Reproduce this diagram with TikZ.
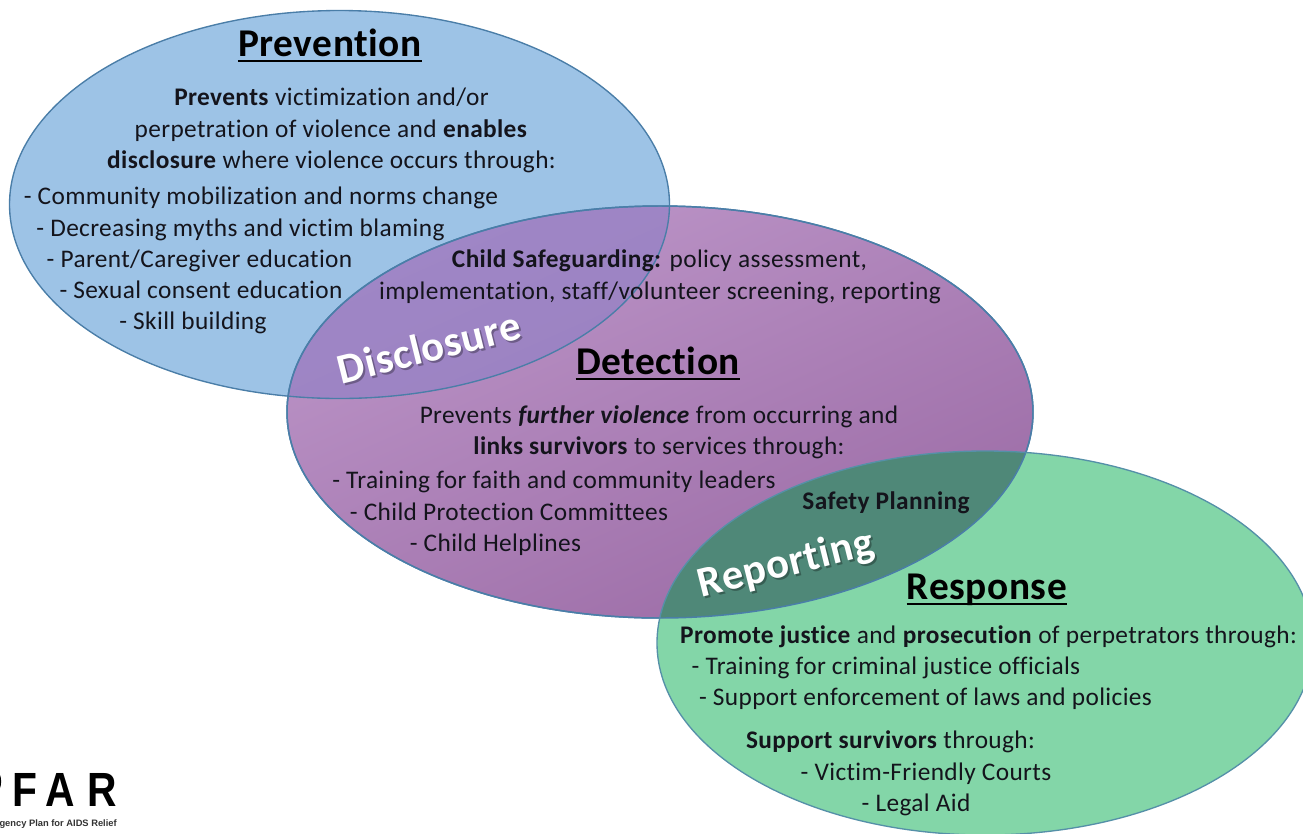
\documentclass[tikz,border=0pt]{standalone}
\usepackage{fontspec}
\setmainfont{Carlito}[Ligatures=NoCommon,LetterSpace=1.5]
\newfontfamily\logofont{Liberation Sans}
\definecolor{blueF}{HTML}{9DC3E6}
\definecolor{blueE}{HTML}{4A7EA8}
\definecolor{purpL}{HTML}{BC95C8}
\definecolor{purpM}{HTML}{B992C5}
\definecolor{purpD}{HTML}{9C6CA6}
\definecolor{overB}{HTML}{9F86C6}
\definecolor{overBD}{HTML}{967DBC}
\definecolor{greenF}{HTML}{83D6A8}
\definecolor{overG}{HTML}{4F8878}
\definecolor{ink}{HTML}{14141C}
\tikzset{
  x=0.75pt,y=-0.75pt,
  txt/.style={inner sep=0pt,anchor=base,font=\fontsize{19}{21}\selectfont,text=ink},
  head/.style={inner sep=0pt,anchor=base,font=\fontsize{29.5}{32}\selectfont\bfseries,text=black},
  underline/.style={line width=1.7pt,black},
  overlay text/.style={inner sep=0pt,font=\fontsize{32}{36}\selectfont\bfseries,rotate=14,text=white},
  shadow text/.style={inner sep=0pt,font=\fontsize{32}{36}\selectfont\bfseries,rotate=14,text=black,opacity=0.3},
}
\newcommand{\blueell}{(339.5,204.5) ellipse [x radius=330,y radius=194]}
\newcommand{\purpell}{(660,412) ellipse [x radius=373,y radius=206]}
\newcommand{\greenell}{(985,643) ellipse [x radius=328,y radius=192]}
\begin{document}
\begin{tikzpicture}
\useasboundingbox (0,0) rectangle (1303,833);
\begin{scope}
\clip (0,0) rectangle (1303,833);
\fill[white] (0,0) rectangle (1303,833);
% ellipses
\fill[blueF] \blueell;
\shade[top color=purpL,middle color=purpM,bottom color=purpD,shading angle=24] \purpell;
\begin{scope}
  \clip \blueell;
  \shade[top color=overB,bottom color=overBD,shading angle=24] \purpell;
  \draw[blueE!70!purpD,line width=0.7pt,opacity=.5] \blueell;
\end{scope}
\draw[blueE,line width=1pt] \blueell;
\draw[blueE,line width=1.1pt] \purpell;
\fill[greenF] \greenell;
\begin{scope}
  \clip \purpell;
  \fill[overG] \greenell;
\end{scope}
\draw[blueE,line width=1.1pt] \purpell;
\draw[blueE!80!greenF,line width=1pt] \greenell;
% logo
\fill[black] (0,775) .. controls (1.5,778) and (1.5,785) .. (0,788) -- cycle;
\node[inner sep=0pt,anchor=base east,xscale=.85,font=\logofont\bfseries\fontsize{36}{38}\selectfont,text=black] (logo) at (117,806) {F\hspace{7pt}A\hspace{11pt}R};
\node[inner sep=0pt,anchor=base east,font=\logofont\bfseries\fontsize{7}{8}\selectfont,text=black!80] (logosub) at (117,826) {gency Plan for AIDS Relief};
\end{scope}
% Prevention
\node[head] (h1) at (330,56) {Prevention};
\draw[underline] ([yshift=-4pt]h1.base west) -- ([yshift=-4pt]h1.base east);
\node[txt] (a1) at (331.5,105) {\textbf{Prevents} victimization and/or};
\node[txt] (a2) at (331,137) {perpetration of violence and \textbf{enables}};
\node[txt] (a3) at (331.5,168) {\textbf{disclosure} where violence occurs through:};
\node[txt] (a4) at (261,204) {- Community mobilization and norms change};
\node[txt] (a5) at (240.5,236) {- Decreasing myths and victim blaming};
\node[txt] (a6) at (199.5,267) {- Parent/Caregiver education};
\node[txt] (a7) at (201,298) {- Sexual consent education};
\node[txt] (a8) at (193,329) {- Skill building};
% Safeguarding
\node[txt] (b1) at (659.5,267) {\textbf{Child Safeguarding:} policy assessment,};
\node[txt] (b2) at (660,299) {implementation, staff/volunteer screening, reporting};
\node[shadow text] (ds) at (431,349) {Disclosure};
\node[overlay text] (d) at (429,347) {Disclosure};
% Detection
\node[head] (h2) at (658,374) {Detection};
\draw[underline] ([yshift=-4pt]h2.base west) -- ([yshift=-4pt]h2.base east);
\node[txt] (c1) at (659,423) {Prevents \textbf{\textit{further violence}} from occurring and};
\node[txt] (c2) at (659,454) {\textbf{links survivors} to services through:};
\node[txt] (c3) at (554,488) {- Training for faith and community leaders};
\node[txt] (c4) at (509,520) {- Child Protection Committees};
\node[txt] (c5) at (495.5,551) {- Child Helplines};
\node[txt,font=\fontsize{19}{21}\selectfont\bfseries] (e1) at (886,509) {Safety Planning};
\node[shadow text] (rs) at (788,567) {Reporting};
\node[overlay text] (r) at (786,565) {Reporting};
% Response
\node[head] (h3) at (987,599) {Response};
\draw[underline] ([yshift=-4pt]h3.base west) -- ([yshift=-4pt]h3.base east);
\node[txt] (f1) at (988.5,643) {\textbf{Promote justice} and \textbf{prosecution} of perpetrators through:};
\node[txt] (f2) at (886,674) {- Training for criminal justice officials};
\node[txt] (f3) at (925.5,705) {- Support enforcement of laws and policies};
\node[txt] (f4) at (890.5,748) {\textbf{Support survivors} through:};
\node[txt] (f5) at (926,780) {- Victim-Friendly Courts};
\node[txt] (f6) at (916,811) {- Legal Aid};
\end{tikzpicture}
\end{document}
